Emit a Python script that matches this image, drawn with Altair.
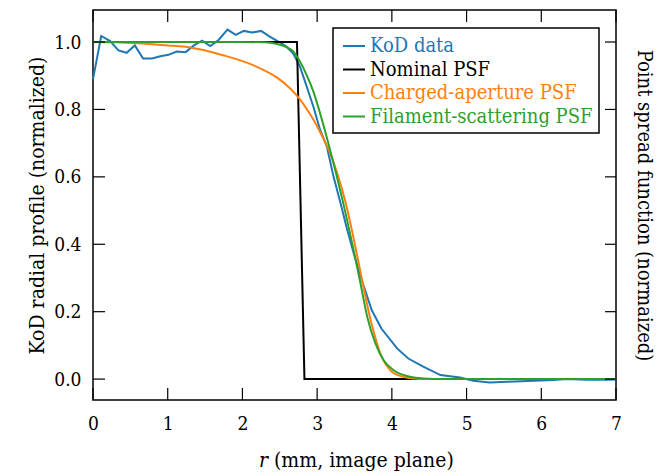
import altair as alt
import pandas as pd

# ---------------- data ----------------
r_kod = [0.0, 0.11, 0.23, 0.34, 0.45, 0.56, 0.67, 0.79, 0.90, 1.01, 1.12, 1.24, 1.35,
         1.46, 1.57, 1.68, 1.80, 1.91, 2.02, 2.13, 2.25, 2.36, 2.47, 2.58, 2.68, 2.77,
         2.86, 2.95, 3.04, 3.13, 3.22, 3.31, 3.40, 3.50, 3.61, 3.73, 3.86, 4.07, 4.22,
         4.42, 4.65, 4.91, 5.09, 5.31, 5.54, 5.82, 6.16, 6.34, 6.60, 6.86, 7.0]
kod = [0.89, 1.018, 1.003, 0.975, 0.968, 0.99, 0.951, 0.951, 0.958, 0.962, 0.972, 0.970,
       0.99, 1.004, 0.988, 1.006, 1.037, 1.021, 1.033, 1.028, 1.033, 1.017, 1.003, 0.988,
       0.966, 0.927, 0.868, 0.808, 0.739, 0.69, 0.60, 0.525, 0.445, 0.365, 0.285, 0.205,
       0.150, 0.091, 0.061, 0.037, 0.012, 0.005, -0.005, -0.010, -0.008, -0.006, -0.003,
       0.0, -0.002, -0.002, -0.001]

r_nom = [0.0, 2.73, 2.83, 7.0]
nom = [1.0, 1.0, 0.0, 0.0]

r_chg = [0.0, 0.3, 0.6, 1.0, 1.3, 1.74, 2.19, 2.46, 2.64, 2.77, 2.90, 2.99, 3.08, 3.17,
         3.27, 3.38, 3.50, 3.60, 3.69, 3.78, 3.86, 3.98, 4.13, 4.28, 4.5, 5.0, 6.0, 7.0]
chg = [1.0, 0.999, 0.996, 0.99, 0.984, 0.961, 0.927, 0.895, 0.862, 0.83, 0.788, 0.754,
       0.715, 0.672, 0.61, 0.525, 0.405, 0.295, 0.20, 0.122, 0.068, 0.026, 0.008, 0.002,
       0.0, 0.0, 0.0, 0.0]

r_fil = [0.0, 0.5, 1.0, 1.5, 2.0, 2.3, 2.45, 2.58, 2.68, 2.77, 2.86, 2.95, 3.04, 3.15,
         3.34, 3.50, 3.58, 3.67, 3.78, 3.89, 4.02, 4.20, 4.42, 4.7, 5.0, 6.0, 7.0]
fil = [1.0, 1.0, 1.0, 1.0, 1.0, 0.999, 0.995, 0.986, 0.972, 0.942, 0.902, 0.853, 0.788,
       0.70, 0.531, 0.37, 0.284, 0.185, 0.106, 0.056, 0.027, 0.009, 0.002, 0.0, 0.0,
       0.0, 0.0]

series_names = ["KoD data", "Nominal PSF", "Charged-aperture PSF", "Filament-scattering PSF"]
series_colors = ["#1f77b4", "#000000", "#ff7f0e", "#2ca02c"]

x_ticks = [0, 1, 2, 3, 4, 5, 6, 7]
y_ticks = [0.0, 0.2, 0.4, 0.6, 0.8, 1.0]

x_title_italic = "r"
x_title_rest = "(mm, image plane)"
y_title_left = "KoD radial profile (normalized)"
y_title_right = "Point spread function (normaized)"

# ---------------- build chart ----------------
FONT = "DejaVu Serif Condensed"
W, H = 523, 390
TICK = 12

frames = [pd.DataFrame({"r": rs, "v": vs, "series": name})
          for name, rs, vs in zip(series_names, [r_kod, r_nom, r_chg, r_fil],
                                  [kod, nom, chg, fil])]

xs = alt.Scale(domain=[0, 7], nice=False, zero=False)
ys = alt.Scale(domain=[-0.062, 1.095], nice=False, zero=False)

label_expr = ""
for n, c in zip(series_names, series_colors):
    label_expr += f"datum.label == '{n}' ? '{c}' : "
label_expr += "'#000000'"

legend = alt.Legend(
    orient="none", legendX=240, legendY=18, title=None,
    symbolType="stroke", symbolStrokeWidth=2, symbolSize=484, symbolOffset=3,
    labelOffset=4, labelFont=FONT, labelFontSize=20,
    labelColor=alt.ExprRef(expr=label_expr),
    strokeColor="black", fillColor="white", padding=6, rowPadding=1.5,
    cornerRadius=0, labelLimit=0,
)
color = alt.Color("series:N", sort=series_names,
                  scale=alt.Scale(domain=series_names, range=series_colors),
                  legend=legend)

x_axis = alt.Axis(orient="bottom", values=x_ticks, format="d", labelPadding=14,
                  title=None, labelOverlap=False, labelFlush=False)
y_axis = alt.Axis(orient="left", values=y_ticks, format=".1f", labelPadding=12,
                  title=y_title_left, titlePadding=6, labelOverlap=False,
                  labelFlush=False)

layers = []
for i, df in enumerate(frames):
    interp = "linear" if i < 2 else "monotone"
    layers.append(
        alt.Chart(df).mark_line(strokeWidth=2, interpolate=interp).encode(
            x=alt.X("r:Q", scale=xs, axis=x_axis if i == 0 else None),
            y=alt.Y("v:Q", scale=ys, axis=y_axis if i == 0 else None),
            color=color,
            order=alt.Order("r:Q"),
        )
    )

xt = pd.DataFrame({"t": x_ticks})
yt = pd.DataFrame({"t": y_ticks})
rule = dict(color="black", strokeWidth=1.2)

ticks_bottom = alt.Chart(xt).mark_rule(**rule).encode(
    x=alt.X("t:Q", scale=xs, axis=None), y=alt.value(H), y2=alt.value(H - TICK))
ticks_top = alt.Chart(xt).mark_rule(**rule).encode(
    x=alt.X("t:Q", scale=xs, axis=None), y=alt.value(0), y2=alt.value(TICK))
ticks_left = alt.Chart(yt).mark_rule(**rule).encode(
    y=alt.Y("t:Q", scale=ys, axis=None), x=alt.value(0), x2=alt.value(TICK))
ticks_right = alt.Chart(yt).mark_rule(**rule).encode(
    y=alt.Y("t:Q", scale=ys,
            axis=alt.Axis(orient="right", labels=False, ticks=False, domain=False,
                          grid=False, title=y_title_right, titlePadding=17,
                          titleFontSize=20)),
    x=alt.value(W), x2=alt.value(W - TICK + 1))

title_r = alt.Chart(pd.DataFrame({"t": [x_title_italic]})).mark_text(
    font=FONT, fontSize=21, fontStyle="italic", align="left", baseline="alphabetic",
    color="black").encode(x=alt.value(166), y=alt.value(457), text="t:N")
title_rest = alt.Chart(pd.DataFrame({"t": [x_title_rest]})).mark_text(
    font=FONT, fontSize=21, align="left", baseline="alphabetic",
    color="black").encode(x=alt.value(181), y=alt.value(457), text="t:N")

chart = alt.layer(
    *layers, ticks_bottom, ticks_top, ticks_left, ticks_right, title_r, title_rest
).resolve_axis(x="independent", y="independent").properties(
    width=W, height=H,
    autosize=alt.AutoSizeParams(type="none"),
    padding={"left": 93, "top": 10, "right": 42, "bottom": 74},
).configure_view(
    stroke="black", strokeWidth=1.5
).configure_axis(
    labelFont=FONT, labelFontSize=19, labelColor="black",
    titleFont=FONT, titleFontSize=21, titleFontWeight="normal", titleColor="black",
    grid=False, domain=False, ticks=False,
).configure_legend(strokeWidth=1.5)

chart.save("out.html", embed_options={"renderer": "svg", "actions": False})
